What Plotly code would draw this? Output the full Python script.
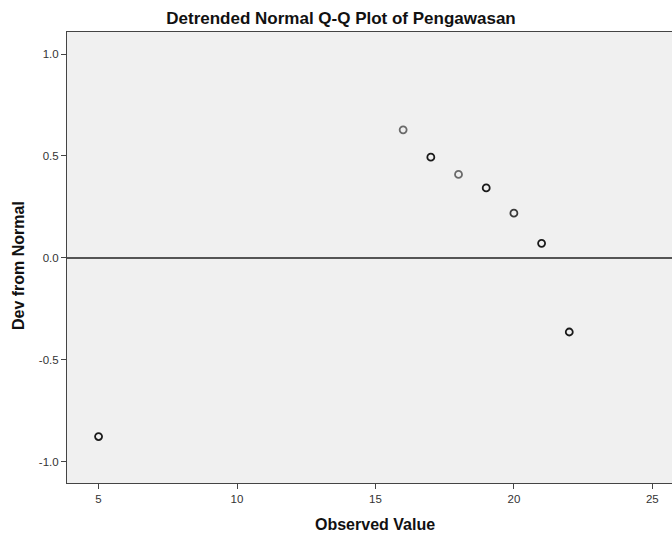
import plotly.graph_objects as go

# Data
observed = [5, 16, 17, 18, 19, 20, 21, 22]
dev_from_normal = [-0.877, 0.628, 0.494, 0.409, 0.343, 0.219, 0.071, -0.364]
point_colors = ["#1a1a1a", "#6a6a6a", "#1a1a1a", "#6a6a6a", "#1a1a1a", "#3a3a3a", "#1a1a1a", "#1a1a1a"]

x_tickvals = [5, 10, 15, 20, 25]
x_ticktext = ["5", "10", "15", "20", "25"]
y_tickvals = [1.0, 0.5, 0.0, -0.5, -1.0]
y_ticktext = ["1.0", "0.5", "0.0", "-0.5", "-1.0"]

title_text = "Detrended Normal Q-Q Plot of Pengawasan"
x_title = "Observed Value"
y_title = "Dev from Normal"

FONT = "Liberation Sans, Arial, sans-serif"

fig = go.Figure()
fig.add_trace(go.Scatter(
    x=observed, y=dev_from_normal, mode="markers",
    marker=dict(symbol="circle-open", size=7, color=point_colors,
                line=dict(width=1.8, color=point_colors)),
    showlegend=False, hoverinfo="x+y",
))

fig.update_layout(
    width=672, height=537,
    margin=dict(l=67, r=0, t=32, b=54),
    paper_bgcolor="white",
    plot_bgcolor="#f0f0f0",
    font=dict(family=FONT, color="#222"),
    title=dict(text="<b>" + title_text + "</b>", x=341 / 672, xanchor="center",
               y=1 - 18 / 537, yanchor="middle",
               font=dict(size=17, family=FONT, color="#111")),
)

fig.add_annotation(text="<b>" + x_title + "</b>", xref="paper", yref="paper",
                   x=0.509, y=0, xanchor="center", yanchor="middle", yshift=-41,
                   showarrow=False, font=dict(size=16, color="#111"))
fig.add_annotation(text="<b>" + y_title + "</b>", xref="paper", yref="paper",
                   x=0, y=0.481, xanchor="center", yanchor="middle", xshift=-49,
                   textangle=-90, showarrow=False, font=dict(size=16, color="#111"))

fig.update_xaxes(
    range=[3.86, 25.71],
    tickvals=x_tickvals, ticktext=x_ticktext,
    ticks="outside", ticklen=5, tickcolor="#444", tickwidth=1,
    tickfont=dict(size=11.5, color="#333"),
    showline=True, linecolor="#444", linewidth=1, mirror=True,
    showgrid=False, zeroline=False,
)
fig.update_yaxes(
    range=[-1.105, 1.108],
    tickvals=y_tickvals, ticktext=y_ticktext,
    ticks="outside", ticklen=5, tickcolor="#444", tickwidth=1,
    tickfont=dict(size=11.5, color="#333"),
    showline=True, linecolor="#444", linewidth=1,
    showgrid=False,
    zeroline=True, zerolinecolor="#555", zerolinewidth=2,
)

fig.write_html("out.html", config={"displayModeBar": False},
               post_script="document.body.style.margin='0';document.body.style.overflow='hidden';")
